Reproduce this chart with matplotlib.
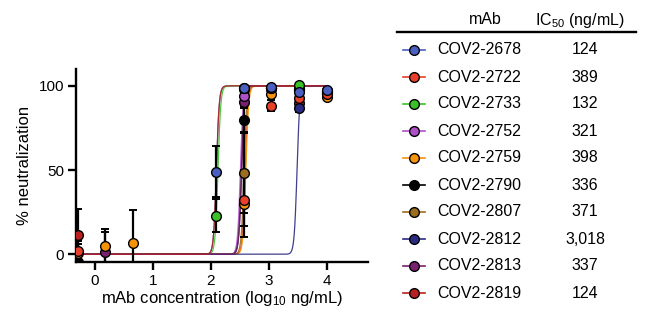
import numpy as np
import matplotlib
matplotlib.use("Agg")
import matplotlib.pyplot as plt

plt.rcParams['font.family'] = ['Liberation Sans', 'DejaVu Sans']
plt.rcParams['mathtext.fontset'] = 'custom'
plt.rcParams['mathtext.rm'] = 'Liberation Sans'
plt.rcParams['mathtext.it'] = 'Liberation Sans:italic'
plt.rcParams['mathtext.bf'] = 'Liberation Sans:bold'

# ---- data ----
mabs = ["COV2-2678", "COV2-2722", "COV2-2733", "COV2-2752", "COV2-2759",
        "COV2-2790", "COV2-2807", "COV2-2812", "COV2-2813", "COV2-2819"]
ic50 = [124, 389, 132, 321, 398, 336, 371, 3018, 337, 124]
ic50_labels = ["124", "389", "132", "321", "398", "336", "371", "3,018", "337", "124"]
colors = ["#4a5fc0", "#e8402a", "#3cc02a", "#b050c8", "#f5930a",
          "#000000", "#9c6d1e", "#2a2a80", "#7a2070", "#b82020"]

# log10 concentrations (ng/mL)
logx = [-0.29, 0.18, 0.66, 2.09, 2.56, 3.04, 3.52, 4.00]
nan = np.nan
# % neutralization per mAb at each concentration (nan = not visible)
neut = {
    "COV2-2678": [nan, nan, nan, 49.0, 99.0, 99.6, 96.6, 97.6],
    "COV2-2722": [2.0, nan, nan, nan, 32.0, 88.3, 92.7, 95.0],
    "COV2-2733": [nan, nan, nan, 23.0, 99.0, 99.0, 100.6, 97.0],
    "COV2-2752": [nan, nan, nan, nan, 94.0, 99.0, 98.0, 97.0],
    "COV2-2759": [0.8, 5.0, 6.5, nan, 30.0, 95.0, 97.0, 93.6],
    "COV2-2790": [-4.4, nan, nan, nan, 80.0, 99.0, 98.0, 97.0],
    "COV2-2807": [nan, nan, nan, nan, 48.5, 99.0, 98.0, 96.0],
    "COV2-2812": [nan, nan, nan, nan, nan, nan, 86.7, 97.0],
    "COV2-2813": [nan, 1.6, nan, nan, 90.7, 99.0, 98.0, 96.0],
    "COV2-2819": [11.5, nan, nan, nan, 98.0, 99.0, 89.7, 96.0],
}
err = {
    "COV2-2678": [0, 0, 0, 15.0, 0.5, 0.5, 1.0, 0.5],
    "COV2-2722": [6.0, 0, 0, 0, 15.0, 3.5, 2.0, 1.0],
    "COV2-2733": [0, 0, 0, 10.0, 0.5, 0.5, 0.5, 0.5],
    "COV2-2752": [0, 0, 0, 0, 3.0, 0.5, 0.5, 0.5],
    "COV2-2759": [5.0, 10.0, 20.0, 0, 20.0, 1.5, 0.5, 1.0],
    "COV2-2790": [6.0, 0, 0, 0, 8.0, 0.5, 0.5, 0.5],
    "COV2-2807": [0, 0, 0, 0, 24.0, 0.5, 0.5, 0.5],
    "COV2-2812": [0, 0, 0, 0, 0, 0, 2.0, 0.5],
    "COV2-2813": [0, 11.5, 0, 0, 4.0, 0.5, 0.5, 0.5],
    "COV2-2819": [15.5, 0, 0, 0, 0.5, 0.5, 2.5, 0.5],
}
hill_slope = 18.0

# ---- figure ----
W, H = 646, 323
fig = plt.figure(figsize=(W / 100, H / 100), dpi=100)
ax = fig.add_axes([76 / W, 1 - 262 / H, (368 - 76) / W, (262 - 69) / H])

xfit = np.linspace(-0.29, 4.0, 800)
for m, c, ic in zip(mabs, colors, ic50):
    lic = np.log10(ic)
    yfit = 100.0 / (1.0 + 10 ** ((lic - xfit) * hill_slope))
    ax.plot(xfit, yfit, color=c, lw=0.9, zorder=2, alpha=0.9)

for m, c in zip(mabs, colors):
    y = np.array(neut[m], dtype=float)
    e = np.array(err[m], dtype=float)
    ax.errorbar(logx, y, yerr=e, fmt='none', ecolor='black', elinewidth=1.6,
                capsize=3.2, capthick=1.4, zorder=3)
for m, c in reversed(list(zip(mabs, colors))):
    y = np.array(neut[m], dtype=float)
    ax.plot(logx, y, 'o', color=c, mec='black', mew=1.0, ms=7, zorder=4)

ax.set_xlim(-0.32, 4.7)
ax.set_ylim(-4.6, 110)
ax.set_xticks([0, 1, 2, 3, 4])
ax.set_yticks([0, 50, 100])
for s in ['top', 'right']:
    ax.spines[s].set_visible(False)
for s in ['left', 'bottom']:
    ax.spines[s].set_linewidth(1.7)
ax.tick_params(axis='both', which='major', length=5.5, width=1.7,
               labelsize=11, direction='out', pad=3)
ax.set_xlabel("mAb concentration (log$_{10}$ ng/mL)", fontsize=12, labelpad=1)
ax.set_ylabel("% neutralization", fontsize=12, labelpad=5)

# ---- table legend ----
tab = fig.add_axes([0, 0, 1, 1], zorder=-1)
tab.set_xlim(0, W)
tab.set_ylim(H, 0)
tab.axis('off')
fs = 11.5
tab.text(485, 20, "mAb", ha='center', va='center', fontsize=fs)
tab.text(535, 20, "IC$_{50}$ (ng/mL)", ha='left', va='center', fontsize=fs)
tab.plot([397, 636], [32, 32], color='black', lw=1.7)
row_y0, row_dy = 50.0, 27.0
for i, (m, c, lab) in enumerate(zip(mabs, colors, ic50_labels)):
    yy = row_y0 + i * row_dy
    tab.plot([403, 425], [yy, yy], color=c, lw=1.2)
    tab.plot([414], [yy], 'o', color=c, mec='black', mew=1.0, ms=7)
    tab.text(437, yy, m, ha='left', va='center', fontsize=fs)
    tab.text(585, yy, lab, ha='center', va='center', fontsize=fs)

fig.savefig("out.png", dpi=100)
